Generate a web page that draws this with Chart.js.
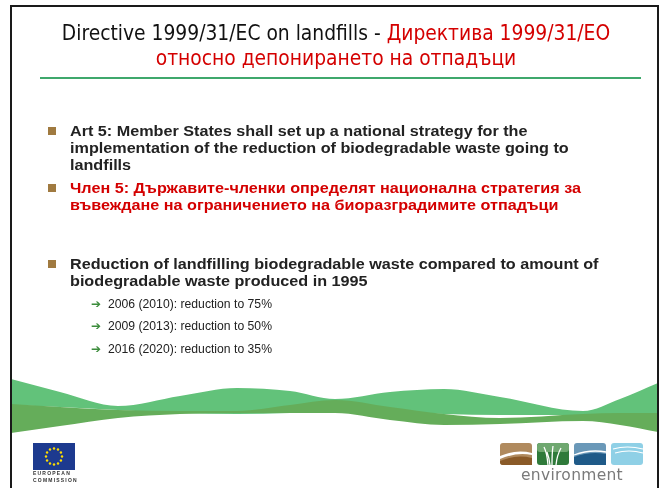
<!DOCTYPE html>
<html><head><meta charset="utf-8">
<script src="https://cdn.jsdelivr.net/npm/chart.js@4"></script>
<style>
html,body{margin:0;padding:0;background:#fff;width:664px;height:488px;overflow:hidden;}
#frame{position:absolute;left:10px;top:5px;width:649px;height:500px;border:2px solid #1a1a1a;box-sizing:border-box;}
#wave{position:absolute;left:0;top:0;width:664px;height:488px;}
.t{position:absolute;white-space:nowrap;}
#title{left:0;width:672px;top:21px;text-align:center;font-family:"DejaVu Sans Condensed","DejaVu Sans",sans-serif;font-size:20.8px;line-height:25px;color:#111;}
.red{color:#d40000;}
#rule{position:absolute;left:40px;top:77px;width:601px;height:2px;background:#3fa86c;}
.b{font-family:"Liberation Sans",Arial,sans-serif;font-weight:bold;font-size:15.2px;line-height:17px;color:#222;left:70px;transform:scaleX(1.065);transform-origin:0 0;}
.sq{position:absolute;left:48px;width:8px;height:8px;background:#a07a40;}
.s{font-family:"Liberation Sans",Arial,sans-serif;font-size:12.2px;line-height:14px;color:#222;left:108px;}
.ar{position:absolute;left:91px;font-family:"DejaVu Sans",sans-serif;font-size:12px;line-height:14px;color:#3c8c3c;font-weight:bold;}
#eu{position:absolute;left:33px;top:443px;}
.eut{position:absolute;left:33px;width:42px;font-family:"Liberation Sans",Arial,sans-serif;font-size:5px;font-weight:bold;color:#333;letter-spacing:1.2px;}
#env{position:absolute;left:500px;top:443px;}
#envt{left:520px;top:466px;width:104px;text-align:center;font-family:"DejaVu Sans",sans-serif;font-size:15.5px;color:#7a7a7a;letter-spacing:0.3px;}
</style></head>
<body>
<canvas id="wave" width="664" height="488"></canvas>
<div id="frame"></div>
<div id="title" class="t">Directive 1999/31/EC on landfills - <span class="red">Директива 1999/31/ЕО</span><br><span class="red">относно депонирането на отпадъци</span></div>
<div id="rule"></div>

<div class="sq" style="top:127px"></div>
<div class="t b" style="top:122px">Art 5: Member States shall set up a national strategy for the<br>implementation of the reduction of biodegradable waste going to<br>landfills</div>
<div class="sq" style="top:184px"></div>
<div class="t b" style="top:179px;color:#d40000">Член 5: Държавите-членки определят национална стратегия за<br>въвеждане на ограничението на биоразградимите отпадъци</div>
<div class="sq" style="top:260px"></div>
<div class="t b" style="top:255px">Reduction of landfilling biodegradable waste compared to amount of<br>biodegradable waste produced in 1995</div>
<div id="subs"></div>

<svg id="eu" width="42" height="27" viewBox="0 0 42 27">
<rect width="42" height="27" fill="#1d3a8f"/>
<g id="stars" fill="#ffdd00"></g>
</svg>
<div class="eut" style="top:470px">EUROPEAN</div>
<div class="eut" style="top:477px">COMMISSION</div>

<svg id="env" width="146" height="22" viewBox="0 0 146 22">
<rect x="0" y="0" width="32" height="22" rx="3" fill="#b08a5e"/>
<path d="M0 13 Q16 6 32 10 L32 12 Q16 9 0 16Z" fill="#fff"/>
<path d="M0 18 Q16 11 32 15 L32 22 L3 22 Q0 22 0 19Z" fill="#8a5a28"/>
<rect x="37" y="0" width="32" height="22" rx="3" fill="#2f7a3a"/>
<rect x="37" y="0" width="32" height="9" rx="3" fill="#6fa870"/>
<path d="M48 22 Q47 10 44 4 M52 22 Q52 10 53 3 M56 22 Q57 12 61 5 M50 22 Q49 14 47 9" stroke="#fff" stroke-width="1.3" fill="none"/>
<rect x="74" y="0" width="32" height="22" rx="3" fill="#6a98b8"/>
<path d="M74 14 Q90 8 106 11 L106 22 L77 22 Q74 22 74 19Z" fill="#1f5a88"/>
<path d="M74 12 Q90 6 106 9" stroke="#fff" stroke-width="1.3" fill="none"/>
<rect x="111" y="0" width="32" height="22" rx="3" fill="#8fd0e6"/>
<path d="M113 6 Q127 2 143 6 M115 10 Q129 6 143 10" stroke="#fff" stroke-width="1.2" fill="none"/>
</svg>
<div id="envt" class="t">environment</div>

<script>
// Text content
const subItems = ["2006 (2010): reduction to 75%", "2009 (2013): reduction to 50%", "2016 (2020): reduction to 35%"];
const subTops = [297, 319, 342];

// Decorative wave ribbons (x position across slide, y levels of ribbon edges)
const waveX      = [11, 60, 118, 180, 237, 290, 335, 390, 444, 500, 583, 620, 658];
const lightTop   = [379, 392, 406, 396, 388, 391, 399, 392, 389, 397, 411, 399, 383];
const lightBot   = [405, 407, 410, 413, 414, 413, 411, 412, 414, 415, 415, 414, 413];
const darkTop    = [404, 407, 410, 411, 411, 405, 400, 407, 414, 418, 414, 413, 413];
const darkBot    = [433, 426, 418, 414, 413, 413, 413, 420, 425, 424, 421, 425, 432];

const subs = document.getElementById('subs');
subItems.forEach((s, i) => {
  const a = document.createElement('div'); a.className = 'ar'; a.style.top = subTops[i] + 'px'; a.textContent = '➔'; subs.appendChild(a);
  const d = document.createElement('div'); d.className = 't s'; d.style.top = subTops[i] + 'px'; d.textContent = s; subs.appendChild(d);
});

// EU stars
const g = document.getElementById('stars');
for (let k = 0; k < 12; k++) {
  const ang = k * Math.PI / 6;
  const c = document.createElementNS('http://www.w3.org/2000/svg', 'circle');
  c.setAttribute('cx', 21 + 8 * Math.cos(ang)); c.setAttribute('cy', 13.5 + 8 * Math.sin(ang)); c.setAttribute('r', 1.2);
  g.appendChild(c);
}

const pts = arr => arr.map((y, i) => ({x: waveX[i], y}));
const LIGHT = 'rgb(98,194,122)', DARK = 'rgb(101,173,90)';
new Chart(document.getElementById('wave'), {
  type: 'line',
  data: { datasets: [
    {data: pts(darkTop), borderWidth: 0, pointRadius: 0, fill: false, order: 0},
    {data: pts(darkBot), borderWidth: 0, pointRadius: 0, fill: 0, backgroundColor: DARK, order: 0},
    {data: pts(lightTop), borderWidth: 0, pointRadius: 0, fill: false, order: 1},
    {data: pts(lightBot), borderWidth: 0, pointRadius: 0, fill: 2, backgroundColor: LIGHT, order: 1}
  ]},
  options: {
    responsive: false, animation: false, devicePixelRatio: 1,
    layout: {padding: 0},
    elements: {line: {tension: 0.4, cubicInterpolationMode: 'monotone'}},
    plugins: {legend: {display: false}, tooltip: {enabled: false}},
    scales: {
      x: {type: 'linear', min: 0, max: 664, display: false},
      y: {type: 'linear', min: 0, max: 488, reverse: true, display: false}
    }
  }
});
</script>
</body></html>
